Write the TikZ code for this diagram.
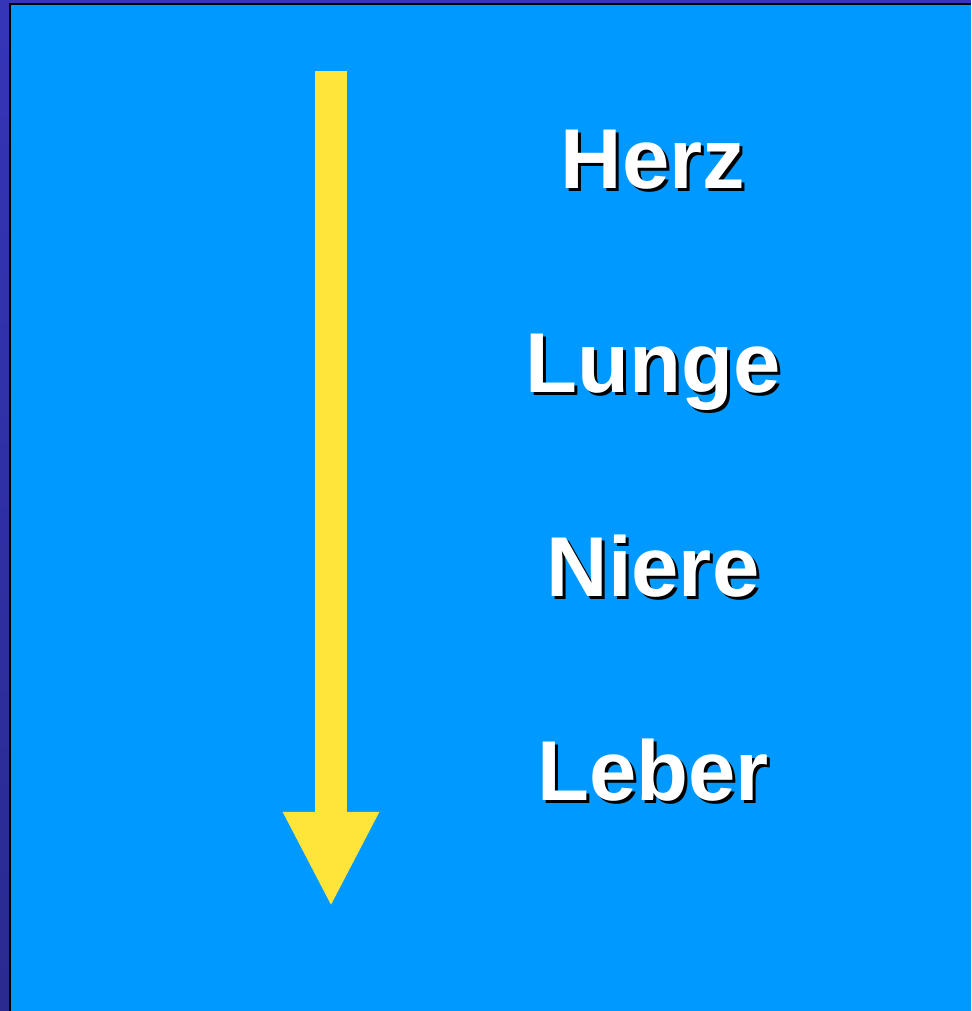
\documentclass[tikz,border=0pt]{standalone}
\usepackage{fontspec}
\setmainfont{Liberation Sans}
\usepackage{tikz}
\usetikzlibrary{matrix,arrows.meta}

\definecolor{slide}{HTML}{0099FF}
\definecolor{rim}{HTML}{3535B8}
\definecolor{rimmid}{HTML}{4236EE}
\definecolor{rimlow}{HTML}{2A2A90}
\definecolor{flow}{HTML}{FFE53A}

\newcommand{\organ}[1]{\rlap{\kern3pt\raisebox{-3pt}{\color{black}#1}}#1}

\begin{document}
\begin{tikzpicture}[x=1pt,y=1pt,
    organ/.style={text=white,font=\fontsize{85}{92}\selectfont\bfseries,inner sep=0pt}]
    \useasboundingbox (0,0) rectangle (971,1011);
    \fill[rim] (0,0) rectangle (971,1011);
    \shade[top color=rim,middle color=rimmid,bottom color=rimlow] (0,0) rectangle (10,1008);
    \fill[black] (9,0) rectangle (971,1008);
    \fill[slide] (11,0) rectangle (971,1006);
    \coordinate (start) at (331,940);
    \coordinate (tip) at (331,104);
    \draw[flow,line width=32pt,-{Triangle[width=89pt,length=95pt]}] (start) -- (tip);
    \matrix (m) [matrix of nodes, row sep=127pt, nodes={organ},
    text height=60pt, text depth=17pt, matrix anchor=m-1-1.base]
    at (653,822)
    { \organ{Herz}\\ \organ{Lunge}\\ \organ{Niere}\\ \organ{Leber}\\ };
  \end{tikzpicture}
\end{document}
